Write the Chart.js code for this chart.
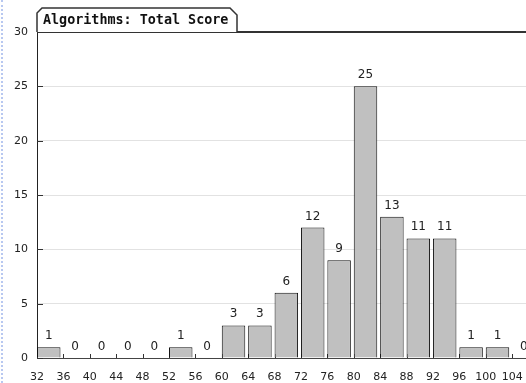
<!DOCTYPE html>
<html>
<head>
<meta charset="utf-8">
<script src="https://cdn.jsdelivr.net/npm/chart.js@4.4.1/dist/chart.umd.min.js"></script>
<style>
  html, body { margin: 0; padding: 0; background: #fff; }
  #wrap { position: relative; width: 526px; height: 383px; }
  #edge { position: absolute; left: 1px; top: 0; width: 0; height: 383px; border-left: 2px dotted #b8c8f0; }
  canvas { position: absolute; left: 0; top: 0; }
</style>
</head>
<body>
<div id="wrap">
  <canvas id="c" width="526" height="383"></canvas>
  <div id="edge"></div>
</div>
<script>
const title = 'Algorithms: Total Score';
const binStarts = [32, 36, 40, 44, 48, 52, 56, 60, 64, 68, 72, 76, 80, 84, 88, 92, 96, 100, 104];
const counts    = [1, 0, 0, 0, 0, 1, 0, 3, 3, 6, 12, 9, 25, 13, 11, 11, 1, 1, 0];
const xTickLabels = ['32','36','40','44','48','52','56','60','64','68','72','76','80','84','88','92','96','100','104'];
const yTickValues = [0, 5, 10, 15, 20, 25, 30];
const binWidth = 4;

const fontSans = '"DejaVu Sans", Verdana, sans-serif';

const decor = {
  id: 'decor',
  beforeDatasetsDraw(chart) {
    const { ctx, chartArea, scales } = chart;
    ctx.save();
    ctx.strokeStyle = '#333';
    ctx.lineWidth = 1;
    yTickValues.forEach(v => {
      const y = Math.round(scales.y.getPixelForValue(v)) + 0.5;
      ctx.beginPath();
      ctx.moveTo(chartArea.left, y);
      ctx.lineTo(chartArea.left + 6, y);
      ctx.stroke();
    });
    xTickLabels.forEach(l => {
      const x = Math.round(scales.x.getPixelForValue(Number(l))) + 0.5;
      ctx.beginPath();
      ctx.moveTo(x, chartArea.bottom);
      ctx.lineTo(x, chartArea.bottom - 4);
      ctx.stroke();
    });
    ctx.restore();
  },
  afterDatasetsDraw(chart) {
    const { ctx } = chart;
    const meta = chart.getDatasetMeta(0);
    ctx.save();
    ctx.font = '12px ' + fontSans;
    ctx.fillStyle = '#222';
    ctx.textAlign = 'center';
    ctx.textBaseline = 'alphabetic';
    meta.data.forEach((bar, i) => {
      ctx.fillText(String(counts[i]), bar.x, bar.y - 8);
    });
    ctx.restore();
  },
  afterDraw(chart) {
    const { ctx, chartArea } = chart;
    ctx.save();
    ctx.strokeStyle = '#333';
    ctx.lineWidth = 2;
    ctx.beginPath();
    ctx.moveTo(chartArea.left, chartArea.top);
    ctx.lineTo(chart.width, chartArea.top);
    ctx.stroke();
    const L = chartArea.left, T = chartArea.top;
    ctx.lineWidth = 1.5;
    ctx.fillStyle = '#fff';
    ctx.beginPath();
    ctx.moveTo(L, T);
    ctx.lineTo(L, T - 19);
    ctx.lineTo(L + 5, T - 24);
    ctx.lineTo(L + 193, T - 24);
    ctx.lineTo(L + 200, T - 17);
    ctx.lineTo(L + 200, T);
    ctx.fill();
    ctx.stroke();
    ctx.fillStyle = '#111';
    ctx.font = 'bold 13.4px "DejaVu Sans Mono", monospace';
    ctx.textAlign = 'left';
    ctx.textBaseline = 'middle';
    ctx.fillText(title, L + 6, T - 11);
    ctx.restore();
  }
};

new Chart(document.getElementById('c'), {
  type: 'bar',
  data: {
    datasets: [{
      data: binStarts.map((b, i) => ({ x: b + binWidth * 0.445, y: counts[i] })),
      backgroundColor: '#c0c0c0',
      borderColor: '#111',
      borderWidth: c => (c.raw && c.raw.y === 0) ? 0 : 1,
      borderSkipped: 'start',
      barPercentage: 0.89,
      categoryPercentage: 1.0
    }]
  },
  options: {
    responsive: false,
    animation: false,
    events: [],
    layout: { padding: { top: 32, right: 0, left: 0, bottom: 0 } },
    plugins: { legend: { display: false }, tooltip: { enabled: false }, title: { display: false } },
    scales: {
      x: {
        type: 'linear',
        offset: false,
        min: 32,
        max: 106.1,
        grid: { display: false, drawTicks: false },
        border: { display: true, color: '#444', width: 1 },
        afterBuildTicks: s => { s.ticks = xTickLabels.map(l => ({ value: Number(l) })); },
        afterFit: s => { s.height = 25; s.paddingLeft = 0; s.paddingRight = 0; },
        ticks: {
          autoSkip: false,
          maxRotation: 0,
          padding: 13,
          color: '#222',
          font: { family: fontSans, size: 11 },
          callback: (v) => String(v)
        }
      },
      y: {
        min: 0,
        max: 30,
        afterBuildTicks: s => { s.ticks = yTickValues.map(v => ({ value: v })); },
        afterFit: s => { s.width = 37; s.paddingTop = 0; s.paddingBottom = 0; },
        grid: { color: '#e2e2e2', drawTicks: false, lineWidth: 1 },
        border: { display: true, color: '#222', width: 1 },
        ticks: {
          padding: 9,
          color: '#222',
          font: { family: fontSans, size: 11 },
          callback: v => String(v)
        }
      }
    }
  },
  plugins: [decor]
});
</script>
</body>
</html>
